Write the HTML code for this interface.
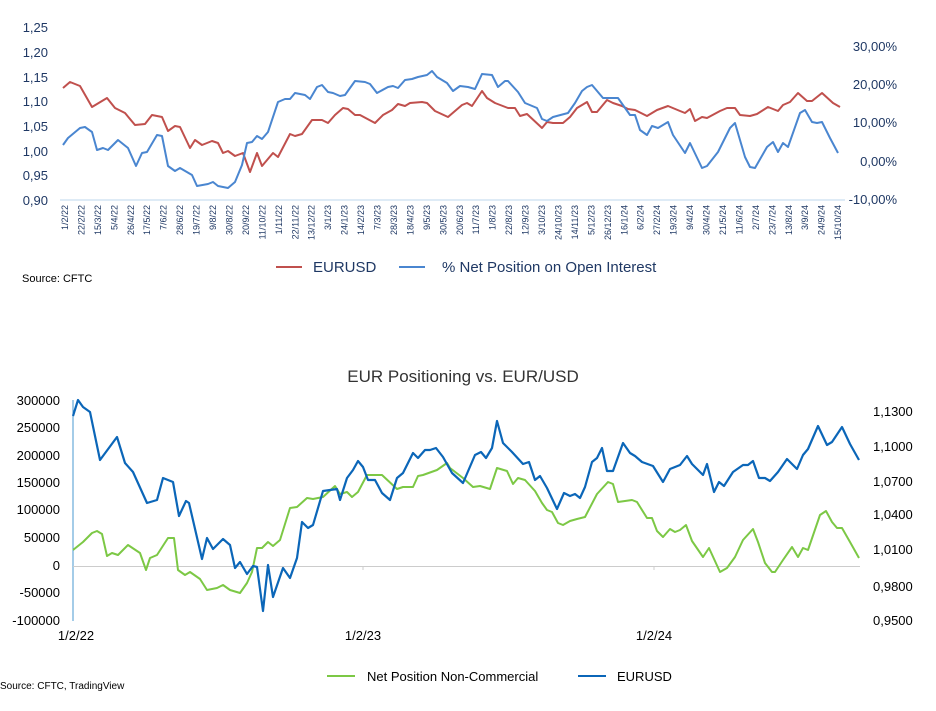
<!DOCTYPE html>
<html><head><meta charset="utf-8"><style>
html,body{margin:0;padding:0;background:#fff;}
svg{display:block;font-family:"Liberation Sans Narrow","Liberation Sans",sans-serif;}
</style></head><body>
<svg width="936" height="711" viewBox="0 0 936 711" xmlns="http://www.w3.org/2000/svg">
<g font-size="13" fill="#1f3864" text-anchor="end">
<text x="48" y="32">1,25</text><text x="48" y="57">1,20</text><text x="48" y="82">1,15</text><text x="48" y="106">1,10</text>
<text x="48" y="131">1,05</text><text x="48" y="156">1,00</text><text x="48" y="180">0,95</text><text x="48" y="205">0,90</text>
<text x="897" y="51">30,00%</text><text x="897" y="89">20,00%</text><text x="897" y="127">10,00%</text><text x="897" y="166">0,00%</text><text x="897" y="204">-10,00%</text>
</g>
<line x1="60" y1="200" x2="845" y2="200" stroke="#bdd7ee" stroke-width="1"/>
<g font-size="9" fill="#1f3864" text-anchor="end">
<text transform="translate(68,205) rotate(-90)">1/2/22</text>
<text transform="translate(84.5,205) rotate(-90)">22/2/22</text>
<text transform="translate(100.9,205) rotate(-90)">15/3/22</text>
<text transform="translate(117.4,205) rotate(-90)">5/4/22</text>
<text transform="translate(133.8,205) rotate(-90)">26/4/22</text>
<text transform="translate(150.2,205) rotate(-90)">17/5/22</text>
<text transform="translate(166.7,205) rotate(-90)">7/6/22</text>
<text transform="translate(183.1,205) rotate(-90)">28/6/22</text>
<text transform="translate(199.6,205) rotate(-90)">19/7/22</text>
<text transform="translate(216,205) rotate(-90)">9/8/22</text>
<text transform="translate(232.5,205) rotate(-90)">30/8/22</text>
<text transform="translate(248.9,205) rotate(-90)">20/9/22</text>
<text transform="translate(265.4,205) rotate(-90)">11/10/22</text>
<text transform="translate(281.8,205) rotate(-90)">1/11/22</text>
<text transform="translate(298.3,205) rotate(-90)">22/11/22</text>
<text transform="translate(314.7,205) rotate(-90)">13/12/22</text>
<text transform="translate(331.2,205) rotate(-90)">3/1/23</text>
<text transform="translate(347.6,205) rotate(-90)">24/1/23</text>
<text transform="translate(364.1,205) rotate(-90)">14/2/23</text>
<text transform="translate(380.5,205) rotate(-90)">7/3/23</text>
<text transform="translate(397,205) rotate(-90)">28/3/23</text>
<text transform="translate(413.4,205) rotate(-90)">18/4/23</text>
<text transform="translate(429.9,205) rotate(-90)">9/5/23</text>
<text transform="translate(446.3,205) rotate(-90)">30/5/23</text>
<text transform="translate(462.8,205) rotate(-90)">20/6/23</text>
<text transform="translate(479.2,205) rotate(-90)">11/7/23</text>
<text transform="translate(495.7,205) rotate(-90)">1/8/23</text>
<text transform="translate(512.1,205) rotate(-90)">22/8/23</text>
<text transform="translate(528.6,205) rotate(-90)">12/9/23</text>
<text transform="translate(545,205) rotate(-90)">3/10/23</text>
<text transform="translate(561.5,205) rotate(-90)">24/10/23</text>
<text transform="translate(577.9,205) rotate(-90)">14/11/23</text>
<text transform="translate(594.4,205) rotate(-90)">5/12/23</text>
<text transform="translate(610.8,205) rotate(-90)">26/12/23</text>
<text transform="translate(627.3,205) rotate(-90)">16/1/24</text>
<text transform="translate(643.7,205) rotate(-90)">6/2/24</text>
<text transform="translate(660.2,205) rotate(-90)">27/2/24</text>
<text transform="translate(676.6,205) rotate(-90)">19/3/24</text>
<text transform="translate(693.1,205) rotate(-90)">9/4/24</text>
<text transform="translate(709.5,205) rotate(-90)">30/4/24</text>
<text transform="translate(726,205) rotate(-90)">21/5/24</text>
<text transform="translate(742.4,205) rotate(-90)">11/6/24</text>
<text transform="translate(758.9,205) rotate(-90)">2/7/24</text>
<text transform="translate(775.3,205) rotate(-90)">23/7/24</text>
<text transform="translate(791.8,205) rotate(-90)">13/8/24</text>
<text transform="translate(808.2,205) rotate(-90)">3/9/24</text>
<text transform="translate(824.7,205) rotate(-90)">24/9/24</text>
<text transform="translate(841.1,205) rotate(-90)">15/10/24</text>
</g>
<polyline fill="none" stroke="#c0504d" stroke-width="2" stroke-linejoin="round" points="63,88 70,82 80,86 92,107 107,98 115,108 125,113 135,125 145,124 152,115 162,117 168,131 175,126 180,127 190,148 195,140 202,145 212,141 218,143 223,153 228,151 235,156 243,153 250,172 257,153 262,166 273,153 278,157 290,134 295,136 302,134 312,120 322,120 328,123 335,115 343,108 348,109 355,115 360,115 375,123 383,115 392,110 398,104 405,106 410,103 422,102 427,103 435,111 448,117 455,111 462,105 467,103 472,106 482,91 487,98 495,103 508,108 515,108 520,116 527,114 542,128 547,122 553,123 563,123 570,117 577,108 587,102 592,112 597,112 607,100 613,103 622,106 628,109 635,110 647,116 657,110 668,106 680,111 685,113 690,109 695,121 702,117 707,118 720,111 727,108 735,108 740,115 750,116 757,114 768,107 778,111 783,105 790,102 798,93 807,101 812,101 822,93 833,103 840,107"/>
<polyline fill="none" stroke="#4a86d0" stroke-width="2" stroke-linejoin="round" points="63,145 68,138 80,128 85,127 92,132 97,150 103,148 108,150 118,140 128,148 136,166 142,153 147,152 157,135 162,136 168,166 175,171 180,168 192,175 197,186 208,184 213,182 218,186 223,187 228,188 235,182 242,165 247,143 252,142 257,136 262,139 268,132 278,102 285,99 290,99 295,93 305,95 310,99 317,87 322,85 328,92 333,93 340,96 345,95 355,81 365,82 370,84 377,93 388,87 393,86 398,88 405,80 412,79 418,77 427,75 432,71 437,77 447,83 453,91 460,86 468,87 475,89 482,74 492,75 498,87 505,81 508,81 518,92 525,103 537,108 542,119 547,121 553,117 568,113 575,103 582,91 587,87 592,85 603,98 618,98 630,115 635,115 640,130 647,135 652,126 658,128 668,122 673,135 685,153 690,143 702,168 707,166 718,152 730,128 735,123 745,157 750,167 755,168 767,147 773,142 778,152 783,143 788,147 800,113 805,110 812,122 817,123 822,122 830,138 838,153"/>
<line x1="276" y1="267" x2="302" y2="267" stroke="#c0504d" stroke-width="2"/>
<text x="313" y="272" font-size="15" fill="#1f3864">EURUSD</text>
<line x1="399" y1="267" x2="425" y2="267" stroke="#4a86d0" stroke-width="2"/>
<text x="442" y="272" font-size="15" fill="#1f3864">% Net Position on Open Interest</text>
<text x="22" y="282" font-size="11" fill="#000">Source: CFTC</text>

<!-- BOTTOM CHART -->
<text x="463" y="382" font-size="17" fill="#333" text-anchor="middle">EUR Positioning vs. EUR/USD</text>
<g font-size="13" fill="#000" text-anchor="end">
<text x="60" y="405">300000</text><text x="60" y="432">250000</text><text x="60" y="460">200000</text><text x="60" y="487">150000</text>
<text x="60" y="514">100000</text><text x="60" y="542">50000</text><text x="60" y="570">0</text><text x="60" y="597">-50000</text><text x="60" y="625">-100000</text>
</g>
<g font-size="13" fill="#000" text-anchor="start">
<text x="873" y="416">1,1300</text><text x="873" y="451">1,1000</text><text x="873" y="486">1,0700</text><text x="873" y="519">1,0400</text>
<text x="873" y="554">1,0100</text><text x="873" y="591">0,9800</text><text x="873" y="625">0,9500</text>
</g>
<line x1="73" y1="400" x2="73" y2="621" stroke="#4a9ad0" stroke-width="1"/>
<line x1="73" y1="566.5" x2="860" y2="566.5" stroke="#ccc" stroke-width="1"/>
<line x1="363" y1="566" x2="363" y2="570" stroke="#ccc"/><line x1="654" y1="566" x2="654" y2="570" stroke="#ccc"/>
<g font-size="13" fill="#000" text-anchor="middle">
<text x="76" y="640">1/2/22</text><text x="363" y="640">1/2/23</text><text x="654" y="640">1/2/24</text>
</g>
<polyline fill="none" stroke="#7cc845" stroke-width="2" stroke-linejoin="round" points="73,550 83,542 92,533 97,531 102,534 107,556 112,553 118,555 128,545 140,553 146,570 150,558 157,555 168,538 174,538 178,570 185,575 190,572 200,579 207,590 217,588 223,585 230,590 240,593 247,583 252,572 257,548 262,548 268,542 273,546 280,540 290,508 297,507 307,498 313,499 323,497 335,486 340,494 347,492 352,497 358,492 367,475 382,475 397,489 403,487 413,487 418,476 423,475 437,470 447,463 450,468 463,478 473,487 480,486 490,489 497,468 507,471 513,484 518,478 525,480 535,491 542,503 547,510 552,512 558,523 563,525 570,521 577,519 585,517 597,494 608,482 613,484 618,502 632,500 637,502 647,518 652,518 657,531 663,537 670,529 675,532 680,530 686,525 692,541 703,557 709,548 720,572 727,568 735,557 743,540 753,529 758,542 765,563 772,572 775,572 783,560 792,547 798,557 803,548 808,550 820,515 826,511 832,522 837,528 842,528 850,542 859,558"/>
<polyline fill="none" stroke="#0b66b8" stroke-width="2.2" stroke-linejoin="round" points="73,416 78,400 83,407 90,412 100,460 117,437 125,463 133,472 147,503 157,500 163,478 173,482 179,516 186,501 189,503 202,559 207,538 213,549 223,539 230,545 235,568 240,562 247,574 253,566 257,567 263,611 268,565 273,597 283,568 290,578 297,558 302,522 308,528 313,525 323,491 337,489 340,500 347,478 353,470 358,461 363,467 368,480 375,480 382,493 390,500 397,478 403,473 413,453 418,458 425,450 430,450 436,448 443,457 452,473 463,483 475,455 481,452 486,458 492,448 497,421 503,443 512,452 523,464 529,462 535,480 540,476 547,488 557,509 564,493 570,496 575,494 580,498 585,487 592,462 597,458 602,448 607,471 613,471 623,443 630,453 635,456 642,462 653,466 663,482 670,469 680,465 687,456 692,464 698,470 703,475 707,464 714,492 719,482 724,486 733,472 743,465 748,465 753,461 759,478 765,478 770,481 778,472 787,459 797,469 803,455 808,449 818,426 827,445 832,442 842,427 850,444 859,460"/>
<line x1="327" y1="676" x2="355" y2="676" stroke="#7cc845" stroke-width="2"/>
<text x="367" y="681" font-size="13" fill="#000">Net Position Non-Commercial</text>
<line x1="578" y1="676" x2="606" y2="676" stroke="#0b66b8" stroke-width="2"/>
<text x="617" y="681" font-size="13" fill="#000">EURUSD</text>
<text x="0" y="689" font-size="10" fill="#000">Source: CFTC, TradingView</text>
</svg>
</body></html>
